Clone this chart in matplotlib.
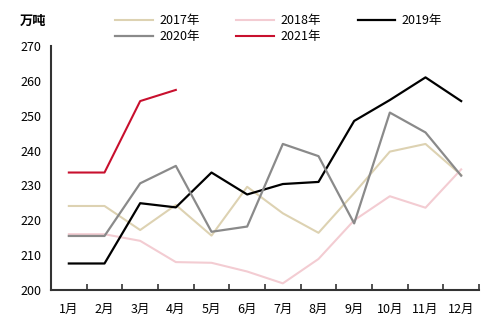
import numpy as np
import matplotlib
matplotlib.use("Agg")
import matplotlib.pyplot as plt

plt.rcParams['font.family'] = ['Noto Sans CJK SC', 'DejaVu Sans']

months = ['1月', '2月', '3月', '4月', '5月', '6月', '7月', '8月', '9月', '10月', '11月', '12月']
y2017 = [224.1, 224.1, 217.2, 224.4, 215.6, 229.6, 222.0, 216.4, 227.8, 239.7, 241.9, 233.0]
y2018 = [216.0, 216.0, 214.1, 208.0, 207.8, 205.3, 201.9, 208.9, 220.0, 226.9, 223.6, 234.6]
y2019 = [207.6, 207.6, 224.9, 223.7, 233.7, 227.4, 230.4, 231.0, 248.5, 254.5, 261.0, 254.2]
y2020 = [215.5, 215.5, 230.6, 235.6, 216.7, 218.2, 241.9, 238.4, 219.1, 250.9, 245.2, 232.8]
y2021 = [233.7, 233.7, 254.2, 257.4]

fig = plt.figure(figsize=(5, 3.24), dpi=100)
ax = fig.add_axes([0.102, 0.105, 0.856, 0.753])

x = np.arange(len(months))
l1, = ax.plot(x, y2017, color='#DDD2B2', lw=1.5, label='2017年')
l2, = ax.plot(x, y2018, color='#F3CCD2', lw=1.5, label='2018年')
l3, = ax.plot(x, y2019, color='black', lw=1.6, label='2019年')
l4, = ax.plot(x, y2020, color='#8A8A8A', lw=1.6, label='2020年')
l5, = ax.plot(np.arange(len(y2021)), y2021, color='#C8102E', lw=1.5, label='2021年')

ax.set_xlim(-0.5, 11.5)
ax.set_ylim(200, 270)
ax.set_yticks(range(200, 271, 10))
ax.set_xticks(x)
ax.set_xticklabels(months)
ax.set_xticks(np.arange(-0.5, 12, 1), minor=True)
ax.tick_params(axis='x', which='major', length=0, pad=9, labelsize=9)
ax.tick_params(axis='x', which='minor', direction='in', length=4, width=1.2, color='#333333')
ax.tick_params(axis='y', length=0, pad=7, labelsize=9)

for s in ['top', 'right']:
    ax.spines[s].set_visible(False)
for s in ['left', 'bottom']:
    ax.spines[s].set_linewidth(1.5)
    ax.spines[s].set_color('#333333')

fig.text(0.04, 0.935, '万吨', fontsize=9.5, fontweight='bold', va='center')
# column-major fill so rows read 2017/2018/2019, 2020/2021
fig.legend(handles=[l1, l4, l2, l5, l3], ncol=3, loc='upper left',
           bbox_to_anchor=(0.208, 0.99), frameon=False, fontsize=9,
           handlelength=3.0, columnspacing=2.95, handletextpad=0.5,
           labelspacing=0.22)

fig.savefig('out.png', dpi=100)
